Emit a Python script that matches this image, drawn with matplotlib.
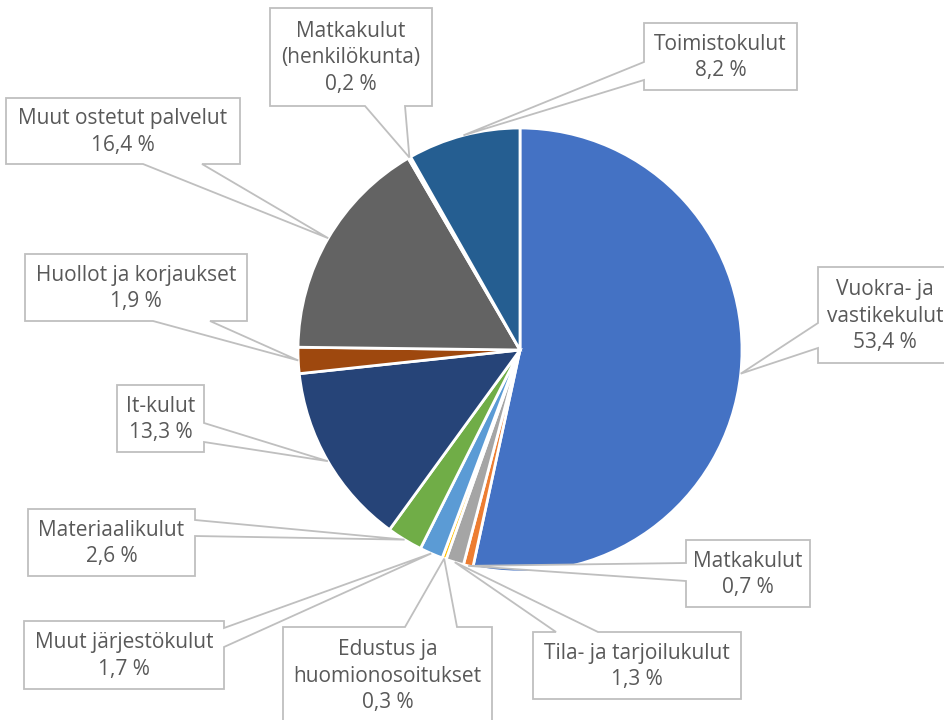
import matplotlib
matplotlib.use("Agg")
import matplotlib.pyplot as plt
from matplotlib.patches import Polygon
import numpy as np

categories = ["Vuokra- ja\nvastikekulut", "Matkakulut", "Tila- ja tarjoilukulut",
              "Edustus ja\nhuomionosoitukset", "Muut järjestökulut", "Materiaalikulut",
              "It-kulut", "Huollot ja korjaukset", "Muut ostetut palvelut",
              "Matkakulut\n(henkilökunta)", "Toimistokulut"]
values = [53.4, 0.7, 1.3, 0.3, 1.7, 2.6, 13.3, 1.9, 16.4, 0.2, 8.2]
colors = ["#4472C4", "#ED7D31", "#A5A5A5", "#FFC000", "#5B9BD5", "#70AD47",
          "#264478", "#9E480E", "#636363", "#997300", "#255E91"]

# callout layout (pixel coords, y down): box (x0, y0, x1, y1), side of pointer, base span
boxes = [(818, 267, 952, 363), (686, 540, 810, 607), (533, 632, 741, 699),
         (283, 627, 492, 723), (24, 621, 224, 689), (28, 509, 195, 576),
         (117, 385, 204, 452), (25, 254, 247, 321), (6, 98, 240, 164),
         (270, 8, 432, 106), (644, 23, 797, 90)]
sides = ["left", "left", "top", "top", "right", "right", "right",
         "bottom", "bottom", "bottom", "left"]
bases = [(323, 348), (563, 581), (556, 598), (405, 457), (628, 647), (520, 536),
         (423, 442), (153, 210), (143, 202), (365, 405), (62, 80)]

W, H = 945, 720
CX, CY, R = 520, 350, 222

fig = plt.figure(figsize=(W / 100, H / 100), dpi=100)
ax = fig.add_axes([0, 0, 1, 1])
wedges, _ = ax.pie(values, colors=colors, startangle=-90, counterclock=True,
                   radius=R, center=(CX, CY),
                   wedgeprops=dict(edgecolor="white", linewidth=2.0))
ax.set_xlim(0, W)
ax.set_ylim(H, 0)
ax.set_aspect("equal")
ax.axis("off")


def callout(box, side, base, tip):
    x0, y0, x1, y1 = box
    a, b = base
    pts = []
    pts.append((x0, y0))
    if side == "top":
        pts += [(a, y0), tip, (b, y0)]
    pts.append((x1, y0))
    if side == "right":
        pts += [(x1, a), tip, (x1, b)]
    pts.append((x1, y1))
    if side == "bottom":
        pts += [(b, y1), tip, (a, y1)]
    pts.append((x0, y1))
    if side == "left":
        pts += [(x0, b), tip, (x0, a)]
    return pts


for w, cat, val, box, side, base in zip(wedges, categories, values, boxes, sides, bases):
    mid = np.deg2rad((w.theta1 + w.theta2) / 2)
    tip = (CX + R * np.cos(mid), CY + R * np.sin(mid))
    poly = Polygon(callout(box, side, base, tip), closed=True, facecolor="white",
                   edgecolor="#BFBFBF", linewidth=1.3, zorder=5, clip_on=False)
    ax.add_patch(poly)
    label = f"{cat}\n{val:.1f} %".replace(".", ",")
    ax.text((box[0] + box[2]) / 2, (box[1] + box[3]) / 2 + 1, label,
            ha="center", va="center", multialignment="center",
            fontsize=15, color="#595959", family="Open Sans",
            linespacing=1.32, zorder=6)

fig.savefig("out.png", dpi=100)
